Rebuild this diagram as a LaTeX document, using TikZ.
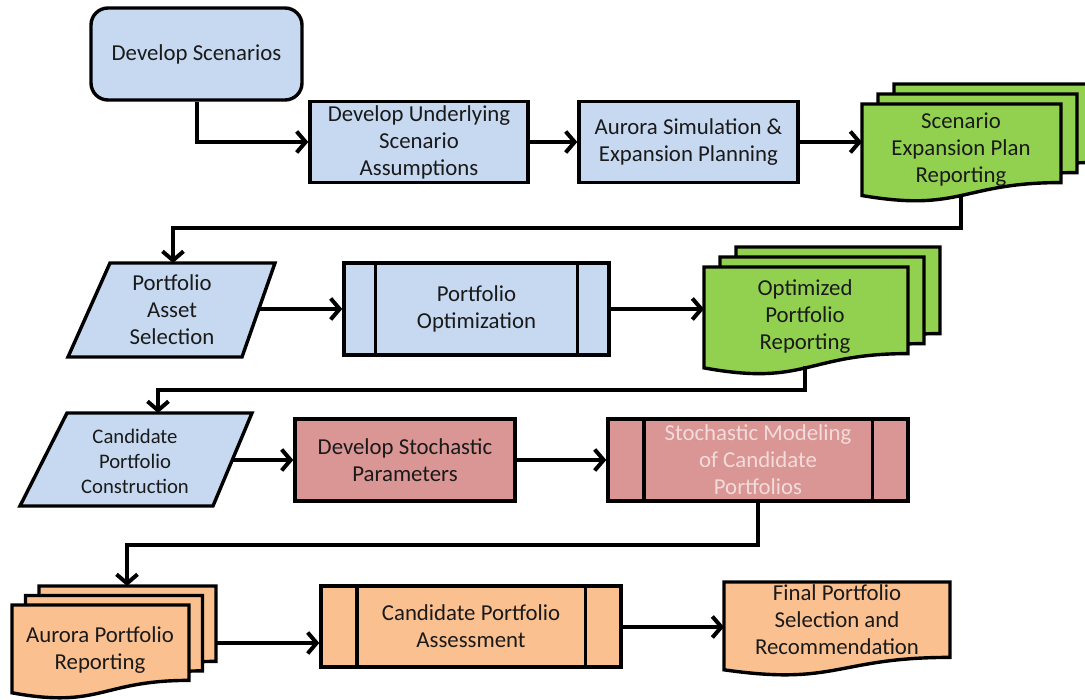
\documentclass[tikz,border=0pt]{standalone}
\usepackage{fontspec}
\setmainfont{Carlito}
\usetikzlibrary{arrows.meta}
\definecolor{cblue}{HTML}{C6D9F1}
\definecolor{cgreen}{HTML}{92D050}
\definecolor{cred}{HTML}{D99694}
\definecolor{corange}{HTML}{FAC090}
\definecolor{ctext}{HTML}{1A1A1A}
\definecolor{cpink}{HTML}{F2DCDB}
\tikzset{
  shapeline/.style={draw=black, line width=3.4pt, line join=miter},
  box/.style={shapeline, rectangle, inner sep=0pt, text=ctext, align=center,
    font=\fontsize{22.8}{27}\selectfont},
  txt/.style={text=ctext, align=center, inner sep=0pt, font=\fontsize{22.8}{27}\selectfont},
  arr/.style={line width=4pt, line join=miter,
    -{Straight Barb[length=9pt, width=21pt]}},
}
% document shape: x y w h colour
\newcommand\docshape[5]{%
  \filldraw[shapeline, fill=#5] (#1,#2) -- ({#1+#3},#2) -- ({#1+#3},{#2+0.802*#4})
    .. controls ({#1+0.5*#3},{#2+0.802*#4}) and ({#1+0.5*#3},{#2+1.108*#4})
    .. (#1,{#2+0.934*#4}) -- cycle;}
% predefined process inner lines
\newcommand\ppinner[2]{%
  \draw[shapeline] ([xshift=#2]#1.north west) -- ([xshift=#2]#1.south west);
  \draw[shapeline] ([xshift=-#2]#1.north east) -- ([xshift=-#2]#1.south east);}
\begin{document}
\begin{tikzpicture}[x=1pt,y=-1pt]
\useasboundingbox (0,0) rectangle (1085,700);
\fill[white] (0,0) rectangle (1085,700);
\clip (0,0) rectangle (1085,700);

% ---- row 1
\node[box, fill=cblue, rounded corners=17pt, minimum width=211pt, minimum height=92pt]
  (scen) at (196.5,54) {Develop Scenarios};
\node[box, fill=cblue, minimum width=218pt, minimum height=81pt]
  (under) at (419,142) {Develop Underlying\\Scenario\\Assumptions};
\node[box, fill=cblue, minimum width=219pt, minimum height=81pt]
  (aurora) at (688.5,142) {Aurora Simulation \&\\Expansion Planning};
\docshape{894}{84}{199}{98}{cgreen}
\docshape{878}{94}{199}{98}{cgreen}
\docshape{862}{104}{199}{98}{cgreen}
\node[txt] (sep) at (961,150) {Scenario\\Expansion Plan\\Reporting};
\coordinate (sep-l) at (862,142);
\coordinate (sep-b) at (961,195);

% ---- row 2
\filldraw[shapeline, fill=cblue] (110,263) -- (275,263) -- (242,357) -- (68,357) -- cycle;
\node[txt] (pas) at (172,310) {Portfolio\\Asset\\Selection};
\coordinate (pas-t) at (173,263);
\coordinate (pas-r) at (258.5,309);
\node[box, fill=cblue, minimum width=265pt, minimum height=92pt]
  (popt) at (476.5,309) {Portfolio\\Optimization};
\ppinner{popt}{33pt}
\docshape{736}{247}{204}{108}{cgreen}
\docshape{720}{257}{204}{108}{cgreen}
\docshape{704}{267}{204}{108}{cgreen}
\node[txt] (opr) at (805,317) {Optimized\\Portfolio\\Reporting};
\coordinate (opr-l) at (704,309);
\coordinate (opr-b) at (805,366);

% ---- row 3
\filldraw[shapeline, fill=cblue] (67,413) -- (252,413) -- (213,506) -- (20,506) -- cycle;
\node[txt, font=\fontsize{20.7}{25}\selectfont] (cpc) at (135,461) {Candidate\\Portfolio\\Construction};
\coordinate (cpc-t) at (158,413);
\coordinate (cpc-r) at (232.5,460);
\node[box, fill=cred, minimum width=220pt, minimum height=82pt]
  (dsp) at (405,460) {Develop Stochastic\\Parameters};
\node[box, fill=cred, text=cpink, minimum width=300pt, minimum height=82pt]
  (smc) at (758,460) {Stochastic Modeling\\of Candidate\\Portfolios};
\ppinner{smc}{37.5pt}

% ---- row 4
\docshape{39}{586}{177}{94}{corange}
\docshape{25.5}{595.5}{177}{94}{corange}
\docshape{12}{605}{177}{94}{corange}
\node[txt] (apr) at (100,650) {Aurora Portfolio\\Reporting};
\coordinate (apr-t) at (127,586);
\coordinate (apr-r) at (216,643);
\node[box, fill=corange, minimum width=300pt, minimum height=81pt]
  (cpa) at (471,626.5) {Candidate Portfolio\\Assessment};
\ppinner{cpa}{37.5pt}
\docshape{724}{582}{226}{94}{corange}
\node[txt] (fps) at (837,620) {Final Portfolio\\Selection and\\Recommendation};
\coordinate (fps-l) at (724,627);

% ---- connectors
\draw[arr] (scen.south) |- (under.west);
\draw[arr] (under.east) -- (aurora.west);
\draw[arr] (aurora.east) -- (sep-l);
\draw[arr] (sep-b) -- ++(0,33) -| (pas-t);
\draw[arr] (pas-r) -- (popt.west);
\draw[arr] (popt.east) -- (opr-l);
\draw[arr] (opr-b) -- ++(0,24) -| (cpc-t);
\draw[arr] (cpc-r) -- (dsp.west);
\draw[arr] (dsp.east) -- (smc.west);
\draw[arr] (smc.south) -- ++(0,42) -| (apr-t);
\draw[arr] (apr-r) -- (apr-r -| cpa.west);
\draw[arr] (cpa.east |- fps-l) -- (fps-l);
\end{tikzpicture}
\end{document}
